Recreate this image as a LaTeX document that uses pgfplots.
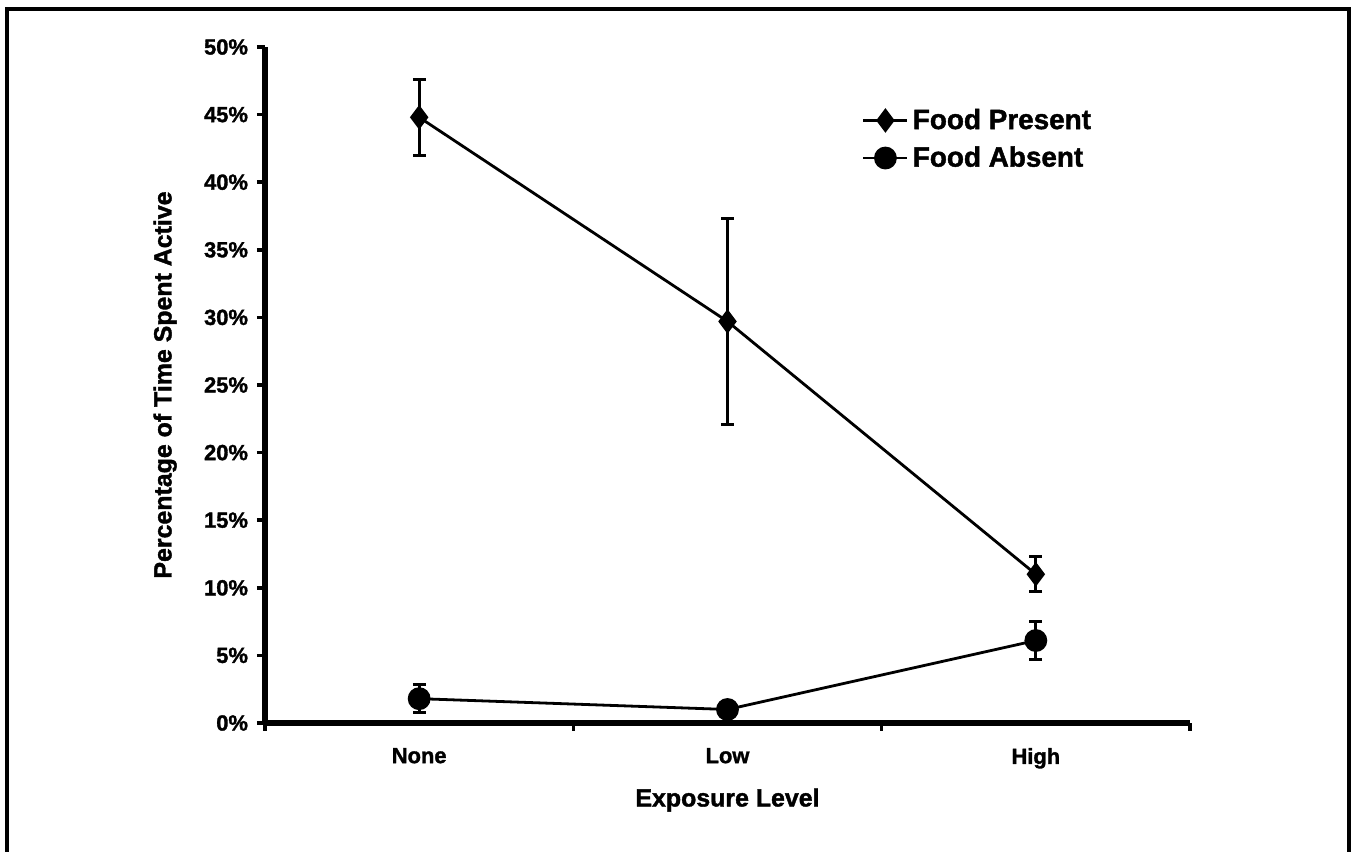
\documentclass[border=0pt]{standalone}
\usepackage{pgfplots}
\pgfplotsset{compat=1.18}
\usepackage{fontspec}
\setmainfont{Liberation Sans}[BoldFeatures={FakeBold=1.5}]
\begin{document}
\begin{tikzpicture}
\path[use as bounding box] (0,0) rectangle (675.5bp,426bp);
\draw[line width=2bp] (3.5bp,-1bp) -- (3.5bp,421.25bp) -- (674.5bp,421.25bp) -- (674.5bp,-1bp);
\begin{axis}[
  at={(132.5bp,64.5bp)}, anchor=south west,
  scale only axis, width=462.5bp, height=338bp,
  xmin=0, xmax=3, ymin=0, ymax=50,
  axis x line*=bottom, axis y line*=left,
  axis line style={line width=2.8bp},
  tick align=outside, major tick length=4bp,
  tick style={line width=1.8bp, black},
  xtick={0,1,2,3}, xticklabels={},
  extra x ticks={0.5,1.5,2.5},
  extra x tick labels={None,Low,High},
  extra x tick style={major tick length=0pt, xticklabel style={yshift=-9bp}},
  ytick={0,5,...,50},
  yticklabels={0\%,5\%,10\%,15\%,20\%,25\%,30\%,35\%,40\%,45\%,50\%},
  ticklabel style={font=\fontsize{11}{13}\selectfont\bfseries},
  yticklabel style={xshift=-1bp},
  xlabel={Exposure Level},
  ylabel={Percentage of Time Spent Active},
  label style={font=\fontsize{12.5}{15}\selectfont\bfseries},
  xlabel style={at={(axis description cs:0.5,-0.114)}, anchor=center},
  ylabel style={at={(axis description cs:-0.108,0.5)}, anchor=center, rotate=0},
  legend style={at={(axis description cs:0.645,0.915)}, anchor=north west,
    draw=none, fill=none, font=\fontsize{14}{16}\selectfont\bfseries,
    row sep=3.2bp, inner sep=0pt},
  legend cell align=left,
  legend image code/.code={%
    \draw[#1, mark repeat=2, mark phase=2] plot coordinates {(0bp,0bp) (11bp,0bp) (22bp,0bp)};},
]
\addplot[black, line width=1.4bp, mark=diamond*, mark size=5bp,
  error bars/.cd, y dir=both, y explicit,
  error bar style={line width=1.5bp},
  error mark options={rotate=90, line width=1.5bp, mark size=3.2bp}]
  coordinates {
  (0.5,44.8) +- (0,2.8)
  (1.5,29.7) +- (0,7.6)
  (2.5,11.0) +- (0,1.3)
  };
\addlegendentry{Food Present}
\addplot[black, line width=1.4bp, mark=*, mark size=5bp,
  error bars/.cd, y dir=both, y explicit,
  error bar style={line width=1.5bp},
  error mark options={rotate=90, line width=1.5bp, mark size=3.2bp}]
  coordinates {
  (0.5,1.8) +- (0,1.05)
  (1.5,1.0) +- (0,0.5)
  (2.5,6.1) +- (0,1.4)
  };
\addlegendentry{Food Absent}
\end{axis}
\end{tikzpicture}
\end{document}
